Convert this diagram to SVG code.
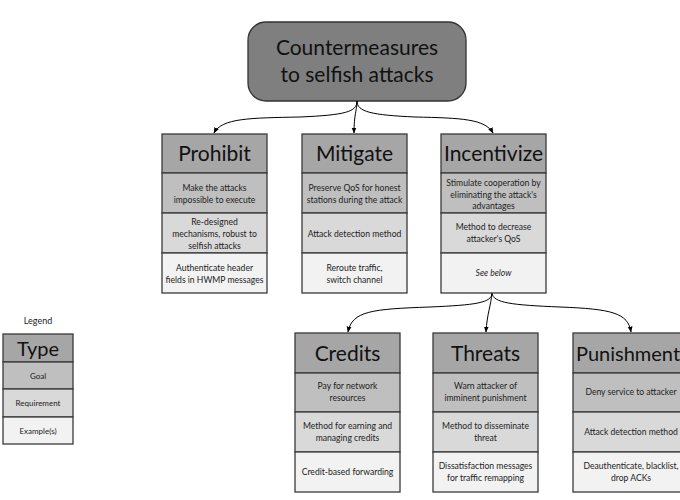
<svg xmlns="http://www.w3.org/2000/svg" width="680" height="500" viewBox="0 0 680 500">
<defs>
<marker id="arr" viewBox="0 0 10 10" refX="9" refY="5" markerWidth="6" markerHeight="6" orient="auto-start-reverse" markerUnits="userSpaceOnUse">
<path d="M0,1 L10,5 L0,9 z" fill="#000"/>
</marker>
<style>
.hd{fill:#a6a6a6;stroke:#3a3a3a;stroke-width:1.3}
.r1{fill:#bfbfbf;stroke:#3a3a3a;stroke-width:1.3}
.r2{fill:#d9d9d9;stroke:#3a3a3a;stroke-width:1.3}
.r3{fill:#f2f2f2;stroke:#3a3a3a;stroke-width:1.3}
.ht{font-family:Lato,"Liberation Sans",sans-serif;font-size:21px;fill:#111;text-anchor:middle}
.t{font-family:Lato,"Liberation Sans",sans-serif;font-size:8.6px;fill:#222;text-anchor:middle}
.con{fill:none;stroke:#000;stroke-width:1}
</style>
</defs>
<rect width="680" height="500" fill="#fff"/>

<g id="root">
<rect x="248" y="22" width="218" height="79" rx="18" fill="#7f7f7f" stroke="#333" stroke-width="1.3"/>
<text x="357" y="55" style="font-family:Lato,'Liberation Sans',sans-serif;font-size:21px;fill:#111;text-anchor:middle">Countermeasures</text>
<text x="357" y="82" style="font-family:Lato,'Liberation Sans',sans-serif;font-size:21px;fill:#111;text-anchor:middle">to selfish attacks</text>
</g>

<g id="connectors">
<path class="con" d="M357,101 C357,112 345,115 300,117 C250,118 222,118 214,133" marker-end="url(#arr)"/>
<path class="con" d="M357,101 C357,110 354,114 354,133" marker-end="url(#arr)"/>
<path class="con" d="M357,101 C357,112 372,115 415,117 C462,118 485,119 493,133" marker-end="url(#arr)"/>
<path class="con" d="M492,293 C492,303 475,305 430,307 C372,309 352,311 348,332" marker-end="url(#arr)"/>
<path class="con" d="M492,293 C491,305 487,314 486,332" marker-end="url(#arr)"/>
<path class="con" d="M492,293 C493,303 512,305 560,307 C612,309 628,313 631,332" marker-end="url(#arr)"/>
</g>

<g id="prohibit">
<rect class="hd" x="162" y="134" width="105" height="39"/>
<rect class="r1" x="162" y="173" width="105" height="40"/>
<rect class="r2" x="162" y="213" width="105" height="40"/>
<rect class="r3" x="162" y="253" width="105" height="40"/>
<text class="ht" x="214.5" y="161">Prohibit</text>
<text class="t" x="214.5" y="191">Make the attacks</text>
<text class="t" x="214.5" y="203">impossible to execute</text>
<text class="t" x="214.5" y="225">Re-designed</text>
<text class="t" x="214.5" y="237">mechanisms, robust to</text>
<text class="t" x="214.5" y="249">selfish attacks</text>
<text class="t" x="214.5" y="271">Authenticate header</text>
<text class="t" x="214.5" y="283">fields in HWMP messages</text>
</g>

<g id="mitigate">
<rect class="hd" x="302" y="134" width="105" height="39"/>
<rect class="r1" x="302" y="173" width="105" height="40"/>
<rect class="r2" x="302" y="213" width="105" height="40"/>
<rect class="r3" x="302" y="253" width="105" height="40"/>
<text class="ht" x="354.5" y="161">Mitigate</text>
<text class="t" x="354.5" y="191">Preserve QoS for honest</text>
<text class="t" x="354.5" y="203">stations during the attack</text>
<text class="t" x="354.5" y="237">Attack detection method</text>
<text class="t" x="354.5" y="271">Reroute traffic,</text>
<text class="t" x="354.5" y="283">switch channel</text>
</g>

<g id="incentivize">
<rect class="hd" x="441" y="134" width="105" height="39"/>
<rect class="r1" x="441" y="173" width="105" height="40"/>
<rect class="r2" x="441" y="213" width="105" height="40"/>
<rect class="r3" x="441" y="253" width="105" height="40"/>
<text class="ht" x="493.5" y="161">Incentivize</text>
<text class="t" x="493.5" y="186">Stimulate cooperation by</text>
<text class="t" x="493.5" y="198">eliminating the attack's</text>
<text class="t" x="493.5" y="209">advantages</text>
<text class="t" x="493.5" y="230">Method to decrease</text>
<text class="t" x="493.5" y="242">attacker's QoS</text>
<text class="t" x="493.5" y="276" font-style="italic">See below</text>
</g>

<g id="credits">
<rect class="hd" x="295" y="333" width="105" height="40"/>
<rect class="r1" x="295" y="373" width="105" height="39"/>
<rect class="r2" x="295" y="412" width="105" height="40"/>
<rect class="r3" x="295" y="452" width="105" height="40"/>
<text class="ht" x="347.5" y="361">Credits</text>
<text class="t" x="347.5" y="389">Pay for network</text>
<text class="t" x="347.5" y="401">resources</text>
<text class="t" x="347.5" y="429">Method for earning and</text>
<text class="t" x="347.5" y="441">managing credits</text>
<text class="t" x="347.5" y="475">Credit-based forwarding</text>
</g>

<g id="threats">
<rect class="hd" x="433" y="333" width="105" height="40"/>
<rect class="r1" x="433" y="373" width="105" height="39"/>
<rect class="r2" x="433" y="412" width="105" height="40"/>
<rect class="r3" x="433" y="452" width="105" height="40"/>
<text class="ht" x="485.5" y="361">Threats</text>
<text class="t" x="485.5" y="389">Warn attacker of</text>
<text class="t" x="485.5" y="401">imminent punishment</text>
<text class="t" x="485.5" y="429">Method to disseminate</text>
<text class="t" x="485.5" y="441">threat</text>
<text class="t" x="485.5" y="469">Dissatisfaction messages</text>
<text class="t" x="485.5" y="481">for traffic remapping</text>
</g>

<g id="punishment">
<rect class="hd" x="573" y="333" width="116" height="40"/>
<rect class="r1" x="573" y="373" width="116" height="39"/>
<rect class="r2" x="573" y="412" width="116" height="40"/>
<rect class="r3" x="573" y="452" width="116" height="40"/>
<text class="ht" x="576" y="361" style="text-anchor:start;font-size:20px">Punishment</text>
<text class="t" x="631" y="395">Deny service to attacker</text>
<text class="t" x="631" y="435">Attack detection method</text>
<text class="t" x="631" y="469">Deauthenticate, blacklist,</text>
<text class="t" x="631" y="481">drop ACKs</text>
</g>

<g id="legend">
<text x="38" y="324" style="font-family:Lato,'Liberation Sans',sans-serif;font-size:9px;fill:#222;text-anchor:middle">Legend</text>
<rect class="hd" x="3" y="334" width="70" height="28"/>
<rect class="r1" x="3" y="362" width="70" height="27"/>
<rect class="r2" x="3" y="389" width="70" height="28"/>
<rect class="r3" x="3" y="417" width="70" height="27"/>
<text x="38" y="356" style="font-family:Lato,'Liberation Sans',sans-serif;font-size:20px;fill:#111;text-anchor:middle">Type</text>
<text class="t" x="38" y="379" style="font-size:8px">Goal</text>
<text class="t" x="38" y="406" style="font-size:8px">Requirement</text>
<text class="t" x="38" y="434" style="font-size:8px">Example(s)</text>
</g>
</svg>
